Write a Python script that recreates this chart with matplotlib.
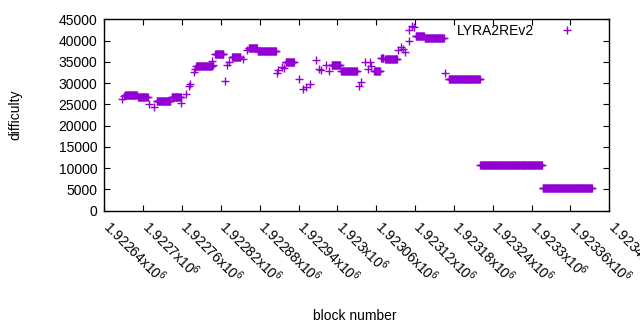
#!/usr/bin/env python3
"""LYRA2REv2 difficulty vs block number (gnuplot-style scatter)"""

import matplotlib
matplotlib.use('Agg')
import matplotlib.pyplot as plt
import matplotlib.transforms as mtransforms
import numpy as np

matplotlib.rcParams['font.family'] = ['Liberation Sans', 'DejaVu Sans']
matplotlib.rcParams['mathtext.fontset'] = 'custom'
matplotlib.rcParams['mathtext.rm'] = 'Liberation Sans'
matplotlib.rcParams['mathtext.it'] = 'Liberation Sans'

# runs of constant difficulty: first block, last block, difficulty
run_start = [1922668, 1922670, 1922672, 1922692, 1922709, 1922717, 1922721, 1922744,
             1922759, 1922766, 1922771, 1922773, 1922778, 1922780, 1922782, 1922807,
             1922808, 1922811, 1922826, 1922829, 1922833, 1922837, 1922854, 1922860,
             1922863, 1922877, 1922907, 1922909, 1922914, 1922918, 1922920, 1922940,
             1922947, 1922951, 1922957, 1922967, 1922972, 1922974, 1922982, 1922987,
             1922991, 1923006, 1923033, 1923036, 1923042, 1923048, 1923050, 1923052,
             1923057, 1923068, 1923074, 1923094, 1923098, 1923101, 1923105, 1923110,
             1923111, 1923115, 1923118, 1923121, 1923135, 1923167, 1923172, 1923221,
             1923317]
run_end = [1922668, 1922670, 1922690, 1922707, 1922709, 1922717, 1922742, 1922758,
           1922759, 1922766, 1922771, 1922773, 1922778, 1922780, 1922806, 1922807,
           1922808, 1922824, 1922826, 1922829, 1922833, 1922850, 1922854, 1922860,
           1922876, 1922905, 1922907, 1922909, 1922914, 1922918, 1922933, 1922940,
           1922947, 1922951, 1922957, 1922967, 1922972, 1922974, 1922982, 1922987,
           1923004, 1923030, 1923033, 1923036, 1923042, 1923048, 1923050, 1923052,
           1923066, 1923071, 1923092, 1923094, 1923098, 1923101, 1923105, 1923110,
           1923111, 1923115, 1923118, 1923134, 1923164, 1923167, 1923220, 1923316,
           1923393]
run_diff = [26200, 26900, 27100, 26850, 25200, 24400, 25700, 26700,
            25400, 27550, 29250, 29900, 32700, 33300, 33950, 35100,
            34300, 36950, 30600, 34300, 35000, 36250, 35700, 37800,
            38200, 37650, 32400, 33000, 33800, 33600, 35050, 30850,
            28700, 29150, 29900, 35500, 33300, 33000, 34200, 32850,
            34350, 32950, 29250, 30200, 34850, 33300, 34850, 34100,
            32950, 36000, 35550, 37900, 38500, 37950, 37300, 39850,
            42550, 43350, 43250, 41150, 40700, 32300, 30850, 10650,
            5250]

blocks = []
difficulty = []
for s, e, d in zip(run_start, run_end, run_diff):
    for b in range(s, e + 1):
        blocks.append(b)
        difficulty.append(d)

fig = plt.figure(figsize=(6.4, 3.3), dpi=100)
ax = fig.add_axes([0.163, 0.3615, 0.789, 0.58])

ax.plot(blocks, difficulty, '+', color='#9400D3', markersize=5.2, markeredgewidth=1.0,
        label='LYRA2REv2')

ax.set_xlim(1922640, 1923420)
ax.set_ylim(0, 45000)

xt = np.arange(1922640, 1923421, 60)
ax.set_xticks(xt)
ax.set_xticklabels([r'%sx10$^{6}$' % format(v / 1e6, '.6g') for v in xt],
                   rotation=-45, ha='left', va='center', rotation_mode='anchor', fontsize=10)
ax.set_yticks(np.arange(0, 45001, 5000))
ax.tick_params(axis='y', labelsize=10)
ax.tick_params(direction='in', length=4, width=0.8, top=True, right=True, pad=5)
ax.tick_params(axis='x', pad=9)
shift = mtransforms.ScaledTranslation(2 / 100, 0, fig.dpi_scale_trans)
for lab in ax.get_xticklabels():
    lab.set_transform(lab.get_transform() + shift)

ax.set_xlabel('block number', fontsize=10, labelpad=0)
ax.xaxis.set_label_coords(0.496, -0.514)
ax.set_ylabel('difficulty', fontsize=10)
ax.yaxis.set_label_coords(-0.162, 0.5)

for sp in ax.spines.values():
    sp.set_linewidth(1.0)

ax.legend(loc='upper right', bbox_to_anchor=(0.944, 0.975), frameon=False,
          markerfirst=False, fontsize=10, handlelength=2.0, handletextpad=1.37,
          borderpad=0, borderaxespad=0)

plt.savefig('out.png', dpi=100)
plt.close()
